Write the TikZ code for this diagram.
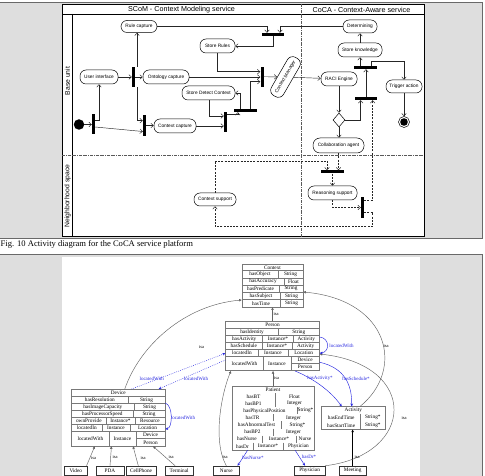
\documentclass[tikz,border=0pt]{standalone}
\usepackage{fontspec}
\setmainfont{Liberation Serif}
\setsansfont{Liberation Sans}
\usetikzlibrary{arrows.meta,shapes.geometric,calc}
\definecolor{pagegray}{RGB}{222,222,222}
\definecolor{frameline}{RGB}{105,105,105}
\definecolor{relblue}{RGB}{40,40,225}
\definecolor{clsline}{RGB}{120,120,120}
\definecolor{isagray}{RGB}{100,100,100}
\newcommand{\ClsRowTwo}[7]{%
  \draw[clsrow] (#1,#4) rectangle (#3,#5);
  \draw[clssep] (#2,#4) -- (#2,#5);
  \node[ctext] at ({(#1+#2)/2},{(#4+#5)/2}) {#6};
  \node[ctext] at ({(#2+#3)/2},{(#4+#5)/2}) {#7};}
\newcommand{\ClsRowThree}[9]{%
  \draw[clsrow] (#1,#5) rectangle (#4,#6);
  \draw[clssep] (#2,#5) -- (#2,#6) (#3,#5) -- (#3,#6);
  \node[ctext] at ({(#1+#2)/2},{(#5+#6)/2}) {#7};
  \node[ctext] at ({(#2+#3)/2},{(#5+#6)/2}) {#8};
  \node[ctext] at ({(#3+#4)/2},{(#5+#6)/2}) {#9};}
\begin{document}
\begin{tikzpicture}[x=1bp,y=-1bp,
  act/.style={rectangle, rounded corners=6bp, draw=black, line width=0.5bp, fill=white, minimum height=13bp, inner sep=0.5bp, font=\sffamily\fontsize{4.8}{5.5}\selectfont},
  barv/.style={fill=black, inner sep=0pt, minimum width=3bp, minimum height=20bp},
  barh/.style={fill=black, inner sep=0pt, minimum width=22bp, minimum height=3bp},
  ar/.style={draw=black!85, line width=0.45bp, -{Straight Barb[length=2.6bp,width=4.6bp]}},
  dar/.style={ar, dash pattern=on 2bp off 1.2bp},
  lanediv/.style={draw=black!65, line width=0.5bp, dash pattern=on 3bp off 1bp on 0.6bp off 1bp},
  hdr/.style={font=\sffamily\fontsize{7.2}{8}\selectfont, inner sep=0pt},
  lanelbl/.style={font=\sffamily\fontsize{6.8}{8}\selectfont, inner sep=0pt, rotate=90},
  clsbox/.style={draw=clsline, line width=0.5bp, inner sep=0pt},
  clsrow/.style={draw=clsline, line width=0.45bp},
  clssep/.style={draw=clsline, line width=0.45bp},
  ctext/.style={font=\fontsize{5.3}{6}\selectfont, inner sep=0pt},
  leaf/.style={draw=black!80, line width=0.5bp, fill=white, minimum height=9bp, inner sep=0pt, font=\fontsize{5.3}{6}\selectfont},
  isa/.style={draw=isagray, line width=0.45bp, -{Triangle[length=2.6bp,width=2.4bp]}},
  isalbl/.style={font=\fontsize{4.5}{5}\selectfont, inner sep=0pt},
  rel/.style={draw=relblue, line width=0.45bp, -{Stealth[length=3bp,width=2.6bp]}},
  reldot/.style={rel, dash pattern=on 0.8bp off 1.2bp},
  rellbl/.style={font=\fontsize{5}{6}\selectfont, inner sep=0pt, text=relblue},
]
\useasboundingbox (0,0) rectangle (485,476);
\fill[white] (0,0) rectangle (485,476);
% ---------- frames ----------
\draw[fill=pagegray, draw=frameline, line width=0.9bp] (-3,2.5) rectangle (482,238.3);
\draw[fill=pagegray, draw=frameline, line width=0.9bp] (-3,254.3) rectangle (482,480);
\fill[white] (62,256.5) rectangle (420,480);
\node[anchor=west, font=\fontsize{8.6}{10}\selectfont, inner sep=0pt] (cap) at (0.5,244.5) {Fig. 10 Activity diagram for the CoCA service platform};
% ---------- activity diagram ----------
\draw[line width=0.7bp, fill=white] (62,4) rectangle (424,236.5);
\draw[line width=0.5bp] (62,14) -- (424,14);
\draw[line width=0.5bp] (72,14) -- (72,236.5);
\draw[lanediv] (301,4) -- (301,236.5);
\draw[lanediv] (62,155) -- (424,155);
\node[hdr] (h1) at (181.5,9.5) {SCoM - Context Modeling service};
\node[hdr] (h2) at (361.5,9.5) {CoCA - Context-Aware service};
\node[lanelbl] (l1) at (67.5,81) {Base unit};
\node[lanelbl] (l2) at (67.5,196) {Neighborhood space};

\node[act, minimum width=36bp, minimum height=12bp] (rule) at (139,26.5) {Rule capture};
\node[act, minimum width=35bp, minimum height=14bp] (srules) at (217.5,46) {Store Rules};
\node[act, minimum width=38bp, minimum height=14bp] (ui) at (99,77) {User interface};
\node[act, minimum width=46bp, minimum height=14bp] (onto) at (166,77) {Ontology capture};
\node[act, minimum width=53bp, minimum height=14bp] (sdc) at (208.5,93) {Store Detect Context};
\node[act, minimum width=42bp, minimum height=14bp] (cc) at (175,126) {Context capture};
\node[act, rotate=60, minimum width=44bp, minimum height=14bp] (cm) at (285.5,77) {Context Manager};
\node[act, minimum width=36bp, minimum height=14bp] (raci) at (339,79) {RACI Engine};
\node[act, minimum width=34bp, minimum height=13bp] (det) at (360,26.5) {Determining};
\node[act, minimum width=44bp, minimum height=14bp] (sk) at (360,50) {Store knowledge};
\node[act, minimum width=36bp, minimum height=13bp] (trig) at (404,86.5) {Trigger action};
\node[act, minimum width=51bp, minimum height=15bp, rounded corners=7bp] (collab) at (338.5,145.5) {Collaboration agent};
\node[act, minimum width=49bp, minimum height=14bp] (reas) at (332.5,193) {Reasoning support};
\node[act, minimum width=42bp, minimum height=13bp] (csup) at (215,199.5) {Context support};
\node[diamond, draw=black, line width=0.5bp, fill=white, inner sep=0pt, minimum width=12bp, minimum height=14bp] (dia) at (339,120) {};
\node[circle, fill=black, inner sep=0pt, minimum size=10.5bp] (init) at (79,124.5) {};
\node[circle, draw=black, line width=0.5bp, fill=white, inner sep=0pt, minimum size=11bp] (fin) at (404,122) {};
\fill[black] (fin.center) circle (3.8bp);

\node[barv] (b1) at (93.5,124.5) {};
\node[barv] (b2) at (133.5,77) {};
\node[barv, minimum height=21bp] (b3) at (144.5,125.5) {};
\node[barh] (b4) at (273,34.5) {};
\node[barv] (b5) at (262,76.7) {};
\node[barh, minimum width=23bp] (b6) at (245.5,110.5) {};
\node[barv] (b7) at (225.5,122) {};
\node[barh, minimum width=23bp] (b8) at (365.5,67.5) {};
\node[barh] (b9) at (366,98.5) {};
\node[barh, minimum width=23bp] (b10) at (332.5,172) {};
\node[barv, minimum height=21bp] (b11) at (362.5,207.5) {};

\draw[ar] (init) -- (b1);
\draw[ar] ($(b1.east)+(0,-3.8)$) -| (ui.south);
\draw[ar] ($(b1.east)+(0,2.5)$) -- ($(b3.west)+(0,6)$);
\draw[ar] (ui) -- (b2);
\draw[ar] ($(b2.north)+(3.5,0)$) coordinate (t1) -- (t1 |- rule.south);
\draw[ar] (b2) -- (onto);
\draw[ar] ($(b2.south)+(3.5,0)$) |- ($(b3.west)+(0,-4.8)$);
\draw[ar] (b3.east) -- (b3.east -| cc.west);
\draw[ar] (cc.east) -- (cc.east -| b7.west);
\draw[ar] ($(sdc.south)+(0.5,0)$) |- ($(b7.west)+(0,-6)$);
\draw[ar] ($(b7.east)+(0,-8)$) -| ($(b6.south west)+(4,0)$);
\draw[ar] (onto.east) -- (onto.east -| b5.west);
\draw[ar] (srules.south) |- ($(b5.west)+(0,-5)$);
\draw[ar] ($(b6.north)+(4.5,0)$) |- ($(b5.west)+(0,5)$);
\draw[ar] ($(b6.north)+(-5.5,0)$) |- (sdc.east);
\draw[ar] (rule.east) -| ($(b4.north)+(-6,0)$);
\draw[ar] (det.west) -| ($(b4.north)+(7,0)$);
\draw[ar] (b4.south) |- (srules.east);
\draw[ar] (b5) -- (cm);
\draw[ar] (cm) -- (raci);
\draw[ar] (raci.south) -- (raci.south |- dia.north);
\draw[ar] (dia.east) -| ($(b9.south)+(-5.3,0)$);
\draw[ar] (dia.south) -- (dia.south |- collab.north);
\draw[ar] (b9.north) -- (b9.north |- b8.south);
\draw[ar] (b8.north -| sk.south) -- (sk.south);
\draw[ar] ($(b8.north)+(6,0)$) -- ++(0,-5) -| (trig.north);
\draw[ar] (sk.north) -- (det.south);
\draw[ar] (trig.south) -- (fin.north);
\draw[dar] (collab.south) -- (collab.south |- b10.north);
\draw[dar] (csup.north) |- ($(b10.north)+(-5.5,-9.5)$) -- ($(b10.north)+(-5.5,0)$);
\draw[dar] (b10.south) -- (b10.south |- reas.north);
\draw[dar] (reas.south) |- (b11.west);
\draw[dar] ($(b11.east)+(0,-7)$) -| ($(b9.south)+(6.7,0)$);
\draw[dar] ($(b11.east)+(0,4.5)$) -| ($(b11.east)+(8.2,19)$) -| (csup.south);

% ---------- class diagram ----------
% Context
\node[clsbox, minimum width=61bp, minimum height=43bp] (context) at (272.5,285.5) {};
\draw[clsrow] (242,264) rectangle (303,270.5);
\node[ctext] at (272.5,267.4) {Context};
\ClsRowTwo{242}{278}{303}{270.5}{277.8}{hasObject}{String}
\ClsRowTwo{242}{284}{303}{277.8}{285.1}{hasAccuracy}{Float}
\ClsRowTwo{242}{279}{303}{285.1}{292.4}{hasPredicate}{String}
\ClsRowTwo{242}{280}{303}{292.4}{299.7}{hasSubject}{String}
\ClsRowTwo{242}{280}{303}{299.7}{307}{hasTime}{String}
% Person
\node[clsbox, minimum width=93.6bp, minimum height=49bp] (person) at (272.5,346.2) {};
\draw[clsrow] (225.7,321.7) rectangle (319.3,328.5);
\node[ctext] at (272.5,325.2) {Person};
\ClsRowTwo{225.7}{278.3}{319.3}{328.5}{335.5}{hasIdentity}{String}
\ClsRowThree{225.7}{262.7}{293.3}{319.3}{335.5}{342.5}{hasActivity}{Instance*}{Activity}
\ClsRowThree{225.7}{262}{292}{319.3}{342.5}{349.5}{hasSchedule}{Instance*}{Activity}
\ClsRowThree{225.7}{258}{288}{319.3}{349.5}{356.5}{locatedIn}{Instance}{Location}
\ClsRowThree{225.7}{263}{291}{319.3}{356.5}{370.7}{locatedWith}{Instance}{}
\draw[clssep] (291,363.6) -- (319.3,363.6);
\node[ctext] at (305.15,360.1) {Device};
\node[ctext] at (305.15,367.2) {Person};
% Device
\node[clsbox, minimum width=93.3bp, minimum height=56.7bp] (device) at (118.35,417.65) {};
\draw[clsrow] (71.7,389.3) rectangle (165,396.5);
\node[ctext] at (118.35,393) {Device};
\ClsRowTwo{71.7}{128}{165}{396.5}{403.5}{hasResolution}{String}
\ClsRowTwo{71.7}{134}{165}{403.5}{410.5}{hasImageCapacity}{String}
\ClsRowTwo{71.7}{133}{165}{410.5}{417.5}{hasProcessorSpeed}{String}
\ClsRowThree{71.7}{106}{135}{165}{417.5}{424.5}{ownProvide}{Instance*}{Resource}
\ClsRowThree{71.7}{102}{130}{165}{424.5}{431.5}{locatedIn}{Instance}{Location}
\ClsRowThree{71.7}{109}{136}{165}{431.5}{446}{locatedWith}{Instance}{}
\draw[clssep] (136,438.7) -- (165,438.7);
\node[ctext] at (150.5,435.2) {Device};
\node[ctext] at (150.5,442.4) {Person};
% Patient
\node[clsbox, minimum width=82bp, minimum height=63.1bp] (patient) at (273,418.25) {};
\node[ctext] at (273,390) {Patient};
\begin{scope}[clsrow/.style={draw=none}]
\ClsRowTwo{232}{275}{314}{393}{400.1}{hasBT}{Float}
\ClsRowTwo{232}{275}{314}{400.1}{407.2}{hasBP1}{Integer}
\ClsRowTwo{232}{297}{314}{407.2}{414.3}{hasPhysicalPosition}{String*}
\ClsRowTwo{232}{273}{314}{414.3}{421.4}{hasTR}{Integer}
\ClsRowTwo{232}{281}{314}{421.4}{428.5}{hasAbnormalTest}{String*}
\ClsRowTwo{232}{273}{314}{428.5}{435.6}{hasBP2}{Integer}
\ClsRowThree{232}{262}{296}{314}{435.6}{442.7}{hasNurse}{Instance*}{Nurse}
\ClsRowThree{232}{253}{283}{314}{442.7}{449.8}{hasDr}{Instance*}{Physician}
\end{scope}
% Activity
\node[clsbox, minimum width=63.3bp, minimum height=22.6bp] (activity) at (353.35,418) {};
\node[ctext] at (353.35,410.2) {Activity};
\begin{scope}[clsrow/.style={draw=none}]
\ClsRowTwo{321.7}{360.7}{385}{413.5}{421.4}{hasEndTime}{String*}
\ClsRowTwo{321.7}{360.7}{385}{421.4}{429.3}{hasStartTime}{String*}
\end{scope}
% leaves
\node[leaf, minimum width=23bp] (video) at (75.8,470.5) {Video};
\node[leaf, minimum width=28bp] (pda) at (110,470.5) {PDA};
\node[leaf, minimum width=30bp] (cell) at (141,470.5) {CellPhone};
\node[leaf, minimum width=28.3bp] (term) at (179.15,470.5) {Terminal};
\node[leaf, minimum width=26bp] (nurse) at (226.3,470.5) {Nurse};
\node[leaf, minimum width=30.7bp] (phys) at (309.65,470.5) {Physician};
\node[leaf, minimum width=26.7bp] (meet) at (352.65,470.5) {Meeting};
% isa
\draw[isa] ($(video.north east)+(-1,0)$) -- ($(device.south west)+(23.3,0)$);
\draw[isa] (pda.north) -- ($(device.south west)+(40,0)$);
\draw[isa] ($(cell.north)+(-2.7,0)$) -- ($(device.south west)+(61.6,0)$);
\draw[isa] ($(term.north)+(-4,0)$) -- ($(device.south west)+(81.6,0)$);
\draw[isa] (nurse.north) .. controls (212,440) and (222,392) .. ($(person.south west)+(5.5,0)$);
\draw[isa] (patient.north) -- (patient.north |- person.south);
\draw[isa] (person.north) -- (person.north |- context.south);
\draw[isa, draw=black] (meet.north) -- (meet.north |- activity.south);
\draw[isa] ($(device.north west)+(53.3,0)$) .. controls (140,345) and (185,305) .. ($(context.west)+(0,14.5)$);
\draw[isa] ($(activity.north)+(6.65,0)$) .. controls (405,370) and (390,300) .. ($(context.east)+(0,6.5)$);
\draw[isa] (phys.north east) .. controls (415,455) and (420,365) .. ($(person.east)+(0,7.8)$);
\node[isalbl] at (93.5,458) {isa};
\node[isalbl] at (115,457.5) {isa};
\node[isalbl] at (143,458) {isa};
\node[isalbl] at (171,457.5) {isa};
\node[isalbl] at (225,457) {isa};
\node[isalbl] at (276.5,378.5) {isa};
\node[isalbl] at (276,314) {isa};
\node[isalbl] at (357,457) {isa};
\node[isalbl] at (201.7,346.7) {isa};
\node[isalbl] at (386,346.5) {isa};
\node[isalbl] at (404,418) {isa};
% relations
\draw[reldot] ($(device.north west)+(60,0)$) -- ($(person.west)+(0,7.1)$);
\draw[reldot] ($(person.west)+(0,13.8)$) -- ($(device.north east)+(-6.7,0)$);
\draw[rel] ($(device.north east)+(0,14)$) .. controls (173,405) and (173,428) .. ($(device.north east)+(0,40)$);
\draw[rel] ($(person.east)+(0,-9.2)$) .. controls (330,338) and (330,352) .. ($(person.east)+(0,7)$);
\draw[rel] ($(person.south)+(22.5,0)$) .. controls (312,378) and (330,390) .. ($(activity.north)+(-11.65,0)$);
\draw[rel] ($(person.east)+(0,16)$) .. controls (345,368) and (352,385) .. ($(activity.north)+(-1.65,0)$);
\draw[rel] ($(patient.south west)+(16,0)$) -- ($(nurse.north east)+(-2,0)$);
\draw[rel] ($(patient.south)+(22,0)$) -- ($(phys.north)+(-4.6,0)$);
\node[rellbl] at (151.7,379) {locatedWith};
\node[rellbl] at (196,379) {locatedWith};
\node[rellbl] at (183,418.3) {locatedWith};
\node[rellbl] at (341.5,346) {locatedWith};
\node[rellbl] at (320,378.3) {hasActivity*};
\node[rellbl] at (356,378.3) {hasSchedule*};
\node[rellbl] at (253,457.3) {hasNurse*};
\node[rellbl] at (309,457) {hasDr*};
\end{tikzpicture}
\end{document}
